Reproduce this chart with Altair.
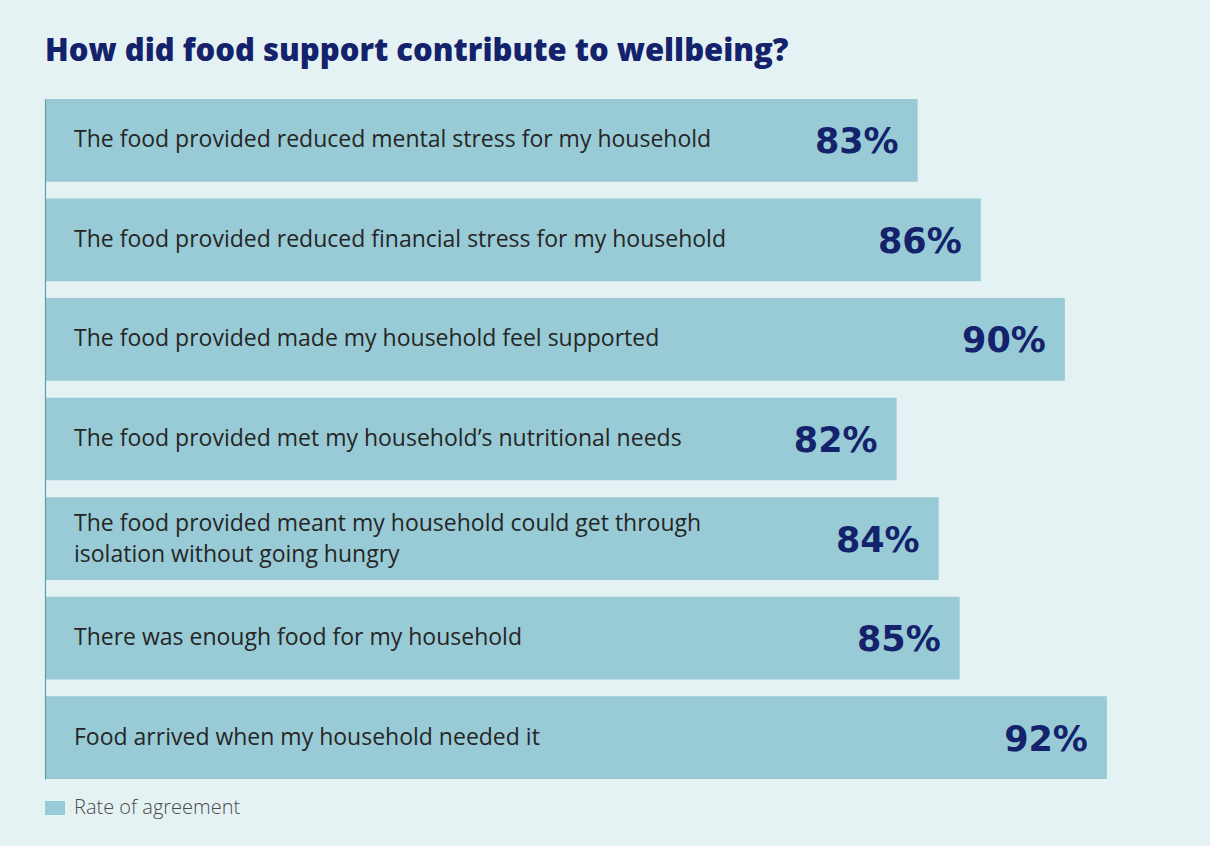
import altair as alt
import pandas as pd

title_text = "How did food support contribute to wellbeing?"
statements = [
    "The food provided reduced mental stress for my household",
    "The food provided reduced financial stress for my household",
    "The food provided made my household feel supported",
    "The food provided met my household\u2019s nutritional needs",
    "The food provided meant my household could get through\nisolation without going hungry",
    "There was enough food for my household",
    "Food arrived when my household needed it",
]
agreement = [83, 86, 90, 82, 84, 85, 92]
value_labels = ["83%", "86%", "90%", "82%", "84%", "85%", "92%"]
series_name = "Rate of agreement"

df = pd.DataFrame({
    "statement": statements,
    "value": agreement,
    "value_label": value_labels,
    "series": [series_name] * len(statements),
})
title_df = pd.DataFrame({"t": [title_text]})

BG = "#e4f2f4"
BAR = "#98cbd5"
NAVY = "#14216b"
X_MIN, X_MAX = 41.5, 95

x_scale = alt.Scale(domain=[X_MIN, X_MAX], zero=False, nice=False)
y_sorted = alt.Y("statement:N", sort=statements)

bars = alt.Chart(df).mark_bar(cornerRadius=0).encode(
    y=alt.Y("statement:N", sort=statements,
            scale=alt.Scale(paddingInner=0.17, paddingOuter=0),
            axis=alt.Axis(labels=False, ticks=False, title=None, domain=True,
                          domainColor="#5d9eac", domainWidth=1.2, grid=False,
                          zindex=1)),
    x=alt.X("value:Q", scale=x_scale, axis=None, stack=None),
    x2=alt.X2(datum=X_MIN),
    color=alt.Color("series:N", scale=alt.Scale(range=[BAR]),
                    legend=alt.Legend(title=None, orient="none", legendX=0, legendY=699,
                                      symbolType="M-1,-0.7H1V0.7H-1Z", symbolSize=400,
                                      symbolStrokeWidth=0, symbolOpacity=1,
                                      labelFont="Open Sans", labelFontSize=20,
                                      labelFontWeight=300, labelColor="#4a4a4a",
                                      labelOffset=9, labelLimit=400)),
)

label_style = dict(align="left", baseline="middle", font="Open Sans", fontSize=23,
                   color="#262626", lineBreak="\n", lineHeight=31)

labels_single = alt.Chart(df).transform_filter(
    "indexof(datum.statement, '\\n') < 0"
).mark_text(**label_style).encode(
    y=y_sorted, x=alt.value(29), text="statement:N",
)

labels_multi = alt.Chart(df).transform_filter(
    "indexof(datum.statement, '\\n') >= 0"
).mark_text(dy=-15, **label_style).encode(
    y=y_sorted, x=alt.value(29), text="statement:N",
)

values = alt.Chart(df).mark_text(
    align="right", baseline="middle", font="DejaVu Sans", fontWeight="bold",
    fontSize=35, color=NAVY, dx=-19, dy=2,
).encode(
    y=y_sorted,
    x=alt.X("value:Q", scale=x_scale),
    text="value_label:N",
)

title = alt.Chart(title_df).mark_text(
    align="left", baseline="alphabetic", font="Open Sans", fontWeight=800,
    fontSize=31, color=NAVY,
).encode(x=alt.value(0), y=alt.value(-38), text="t:N")

chart = alt.layer(bars, labels_single, labels_multi, values, title).properties(
    width=1125,
    height=680,
    background=BG,
    padding={"left": 45, "top": 99, "right": 40, "bottom": 67},
    autosize=alt.AutoSizeParams(type="none"),
).configure_view(stroke=None)

chart.save("out.html", embed_options={"renderer": "svg", "actions": False})
